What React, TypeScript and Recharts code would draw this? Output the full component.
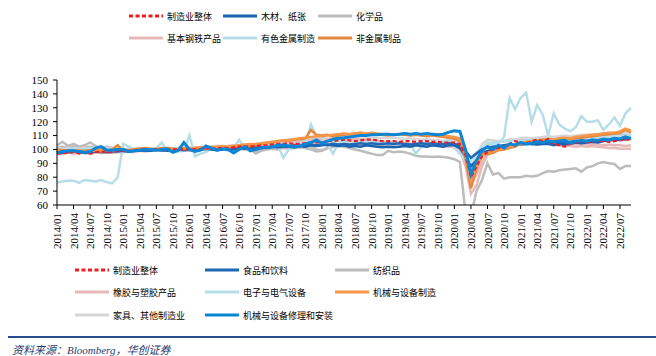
import React from 'react';
import { LineChart, Line, XAxis, YAxis } from 'recharts';

// 2014/01 .. 2022/09, monthly
const months: string[] = [];
for (let y = 2014; y <= 2022; y++) {
  for (let m = 1; m <= 12; m++) {
    if (y === 2022 && m > 9) break;
    months.push(`${y}/${m < 10 ? '0' + m : m}`);
  }
}

const yTicks = [60, 70, 80, 90, 100, 110, 120, 130, 140, 150];

// 制造业整体
const zzt = [
  97, 97, 97.5, 98, 97, 98, 97, 98, 98.5, 98, 98, 99,
  99, 99, 99.5, 100, 100, 100, 100, 100.5, 100, 100, 100, 100,
  100, 100, 100.5, 101, 100.5, 101, 101, 101, 101.5, 102, 102, 102,
  102.5, 103, 103, 103.5, 104, 104, 104.5, 104, 104, 104.5, 105, 105,
  105, 106, 106, 106.5, 107, 106.5, 106, 106.5, 107, 107, 106.5, 106,
  106, 106, 105.5, 106, 106, 105.5, 106, 106, 105.5, 105.5, 105, 105,
  105, 104, 96, 80, 88, 95, 98, 100, 101, 102, 104, 106,
  105, 104, 106, 107, 106, 107.5, 104, 103, 102, 104, 105, 106,
  105, 106, 106, 106, 105.5, 106, 106.5, 107, 107,
];
// 木材、纸张
const mc = [
  99, 98, 98.5, 99, 98, 98.5, 98, 99, 98.5, 98, 98.5, 99,
  99, 98.5, 99, 99.5, 99, 99, 100, 99.5, 99, 99.5, 100, 99.5,
  100, 99.5, 100, 100.5, 100, 99.5, 100, 100.5, 100, 101, 100.5, 101,
  101, 101.5, 101, 102, 101.5, 102, 102, 101.5, 102.5, 102, 103, 102.5,
  103, 103.5, 103, 102.5, 103, 102, 102.5, 102, 103, 102.5, 102, 101.5,
  102, 101.5, 102, 102.5, 102, 103, 102.5, 102, 103, 102.5, 102, 103,
  103, 101, 95, 88, 92, 97, 99, 100, 101, 101, 102, 103,
  103.5, 104, 104, 103.5, 104, 104, 103, 104, 103.5, 104, 105, 104.5,
  105, 105.5, 105, 106, 106.5, 107, 107, 107.5, 108,
];
// 化学品
const hx = [
  103, 105.5, 102.5, 104, 102, 103, 105, 102.5, 101, 102, 101, 100,
  100, 99.5, 100, 100.5, 100, 99.5, 100, 101, 100.5, 100, 100, 99.5,
  100, 100, 100.5, 101, 100.5, 101, 101.5, 101, 100.5, 101, 101.5, 101,
  98.5, 100, 101, 101.5, 101, 102, 102, 102.5, 102, 103, 102, 100,
  99.5, 101, 102, 103, 103.5, 103, 103.5, 104, 103, 104, 103.5, 103,
  103, 103.5, 104, 103, 103.5, 104, 103.5, 104, 103, 103.5, 104, 104,
  104, 102, 96, 86, 92, 99, 103, 105, 106, 106, 107, 107,
  107, 107.5, 108, 107.5, 108, 108.5, 108, 108.5, 109, 108.5, 109, 109,
  109.5, 110, 110, 110.5, 110.5, 111, 111, 111, 111,
];
// 基本钢铁产品
const gt = [
  98, 97.5, 98, 97, 98, 97.5, 97, 98, 97.5, 98, 97.5, 98,
  98, 98.5, 98, 99, 98.5, 99, 99.5, 99, 99.5, 100, 99.5, 100,
  100, 100.5, 101, 101.5, 101, 102, 101.5, 102, 102.5, 102, 103, 103,
  103.5, 104, 104.5, 105, 105, 105.5, 106, 106.5, 106, 107, 107, 107.5,
  108, 107.5, 108, 108.5, 108, 107.5, 107, 107.5, 107, 106.5, 106, 105.5,
  105, 105.5, 105, 104.5, 104, 104.5, 104, 103.5, 103, 103.5, 103, 102,
  102, 100, 88, 68, 74, 88, 96, 99, 101, 102, 103, 104,
  104.5, 105, 105, 104.5, 105, 104, 103.5, 103, 102.5, 102.5, 102, 102.5,
  102, 102.5, 102, 101.5, 101, 101, 100.5, 100.5, 100.5,
];
// 有色金属制造
const ys = [
  76, 77, 77.5, 77.5, 76, 78, 77.5, 77, 78, 76.5, 75.5, 80,
  104, 102, 100, 100, 99.5, 100, 101, 105, 99, 98.5, 98.5, 99,
  110, 95, 97, 98, 101, 102, 100, 99.5, 101, 107, 101, 100,
  100, 101, 102, 102.5, 103, 94, 100, 102, 103, 104, 118, 110,
  109, 104, 97, 104, 105, 106, 105, 106, 105, 104, 105, 104,
  104, 105, 104, 103, 104, 97, 102, 104, 105, 104, 105, 108,
  101, 97, 92, 88, 95, 100, 105, 104, 104, 109, 137, 129,
  137, 141, 120, 132, 125, 110, 126, 118, 115, 113, 116, 124,
  120, 120, 121, 114, 118, 123, 117, 126, 130,
];
// 非金属制品
const fjs = [
  100, 99.5, 99, 98.5, 99, 99, 99.5, 99, 98.5, 99, 100, 103,
  99, 99.5, 100, 100.5, 101, 100.5, 100, 100.5, 101, 100.5, 100, 100.5,
  100, 100.5, 101, 100.5, 101, 101.5, 101, 101.5, 102, 102.5, 102, 102.5,
  103, 104, 104.5, 105, 106, 106.5, 106.5, 107, 107.5, 108, 114, 110.5,
  110, 110.5, 109.5, 110, 110.5, 111, 111.5, 112, 111.5, 111, 110.5, 110.5,
  110, 110.5, 111, 110.5, 110, 110.5, 110, 109.5, 110, 109.5, 109, 108.5,
  107.5, 106, 94, 72, 86, 97, 96.5, 97.5, 99.5, 100, 101, 102,
  104, 105, 105.5, 106, 107, 106.5, 107, 107.5, 108, 107.5, 108, 108.5,
  109, 109.5, 110, 110.5, 111, 111.5, 112, 114, 112.5,
];
// 食品和饮料
const sp = [
  98, 97.5, 98, 98.5, 98, 97.5, 98, 98.5, 98, 98.5, 99, 98.5,
  99, 98.5, 99, 99.5, 99, 99.5, 100, 99.5, 100, 99.5, 100, 100,
  100.5, 100, 100.5, 101, 100.5, 101, 100.5, 101, 101.5, 101, 101.5, 101,
  101.5, 101, 101.5, 102, 102.5, 102, 102.5, 103, 102.5, 103, 103.5, 103,
  103.5, 103, 104, 103.5, 104, 103.5, 104, 104.5, 104, 104.5, 104, 104,
  104.5, 104, 104.5, 104, 103.5, 104, 104.5, 104, 104.5, 104, 104, 104.5,
  104, 103, 99, 94, 97, 100, 101.5, 102, 102.5, 103, 103.5, 103,
  104, 104.5, 104, 104.5, 105, 104.5, 105, 105.5, 105, 105.5, 106, 105.5,
  106, 106.5, 106, 106.5, 107, 107.5, 107, 107.5, 108,
];
// 纺织品
const fz = [
  101, 102, 101, 102.5, 101, 101.5, 102, 101, 100.5, 100, 100.5, 100,
  100, 99.5, 99, 99.5, 100, 99.5, 99, 99.5, 100, 99.5, 99, 99.5,
  99, 99.5, 100, 99.5, 100, 100.5, 100, 99.5, 100, 100.5, 100, 100.5,
  97, 99, 100, 100.5, 100, 101, 100.5, 101, 101.5, 101, 100, 98.5,
  99, 101, 102, 102.5, 102, 101, 100, 99, 98, 97, 96, 96,
  99, 98, 98.5, 98, 97, 95.5, 95, 95, 94.5, 95, 94.5, 94,
  93, 91, 55, 52, 70, 78, 90, 82, 83, 79, 80, 80,
  80, 81, 80.5, 81, 83, 84.5, 84, 85, 85.5, 86, 86.5, 84,
  87, 88, 90, 91, 90, 89.5, 86, 88, 88,
];
// 橡胶与塑胶产品
const xj = [
  99, 98.5, 99, 98.5, 99, 98, 98.5, 99, 98.5, 99, 99.5, 99,
  99.5, 99, 99.5, 100, 99.5, 100, 100.5, 100, 100.5, 100, 101, 100.5,
  101, 101.5, 101, 101.5, 102, 102.5, 102, 102.5, 103, 102.5, 103, 103.5,
  103, 103.5, 104, 104.5, 104, 105, 104.5, 105, 105.5, 105, 106, 106,
  106, 106.5, 106, 106.5, 107, 106.5, 106, 106.5, 106, 105.5, 105, 105.5,
  105, 104.5, 105, 104.5, 104, 104.5, 104, 103.5, 104, 103.5, 103, 103,
  103, 101, 92, 75, 82, 92, 98, 101, 102, 103, 103.5, 104,
  104, 104.5, 104, 104.5, 105, 104.5, 104, 104.5, 104, 103.5, 104, 103.5,
  103.5, 104, 103.5, 103, 103.5, 103, 103, 102.5, 103,
];
// 电子与电气设备
const dz = [
  100, 99.5, 100, 101, 100.5, 100, 101, 100.5, 101, 100, 100.5, 101,
  100.5, 100, 100.5, 101, 100, 100.5, 101, 100.5, 100, 100.5, 101, 100.5,
  100, 100.5, 101, 100.5, 101, 101.5, 101, 101.5, 102, 101.5, 102, 102.5,
  102, 102.5, 103, 103.5, 103, 104, 103.5, 104, 104.5, 105, 105.5, 105,
  105.5, 106, 105.5, 106, 106.5, 106, 105.5, 106, 105, 105.5, 105, 104.5,
  105, 104.5, 105, 104, 103.5, 104, 104.5, 104, 104.5, 104, 105, 106,
  105, 103, 96, 92, 98, 102, 104, 105, 105.5, 106, 106, 106.5,
  106, 106.5, 107, 106.5, 107, 107.5, 107, 107.5, 108, 107.5, 108, 108,
  108.5, 109, 108.5, 109, 109.5, 109, 109.5, 110, 110,
];
// 机械与设备制造
const jx = [
  99, 98.5, 99, 99.5, 99, 98.5, 99, 99.5, 100, 99.5, 99, 100,
  100, 99.5, 100, 100.5, 100, 100, 100.5, 101, 100.5, 100, 100.5, 101,
  100.5, 101, 101.5, 101, 101.5, 102, 102.5, 102, 102.5, 103, 103.5, 104,
  104, 104.5, 105, 105.5, 106, 106.5, 107, 107.5, 108, 108.5, 109, 109.5,
  109.5, 110, 110.5, 111, 111.5, 111, 111.5, 112, 111.5, 112, 111.5, 111,
  111, 110.5, 111, 111.5, 111, 110.5, 111, 110.5, 110, 110.5, 110, 109.5,
  109, 108, 98, 78, 88, 96, 97.5, 98.5, 100, 101, 102, 103,
  104.5, 105.5, 106, 106.5, 107, 107.5, 107, 108, 108.5, 108, 109, 109.5,
  110, 110.5, 111, 111.5, 112, 112, 113, 115, 113.5,
];
// 家具、其他制造业
const jj = [
  101, 100.5, 101, 100, 100.5, 101, 100.5, 100, 100.5, 101, 100.5, 100,
  100, 100.5, 100, 99.5, 100, 100.5, 100, 100.5, 101, 100.5, 100, 100.5,
  101, 101.5, 101, 101.5, 102, 101.5, 102, 102.5, 102, 102.5, 103, 102.5,
  103, 103.5, 103, 104, 104.5, 104, 104.5, 105, 105.5, 105, 106, 106.5,
  106, 106.5, 107, 107.5, 107, 107.5, 108, 107.5, 108, 108.5, 108, 108.5,
  108, 108.5, 108, 107.5, 108, 107.5, 107, 107.5, 107, 106.5, 106, 106,
  105.5, 103, 92, 80, 92, 104, 107, 106.5, 106, 105.5, 106.5, 107,
  108, 108.5, 108, 108.5, 109, 109.5, 109, 109.5, 110, 109.5, 110, 110.5,
  110.5, 111, 111, 111.5, 111.5, 112, 112, 112, 111.5,
];
// 机械与设备修理和安装
const xl = [
  97.5, 98.5, 99, 99, 98.5, 98, 98.5, 101, 102, 99.5, 99.5, 100,
  100, 98.5, 99, 99.5, 100, 100, 99.5, 100, 100.5, 98, 99.5, 105,
  100, 98.5, 99.5, 102.5, 101, 99.5, 100.5, 100, 97.5, 100, 102, 99,
  100, 101, 101.5, 102, 103, 103.2, 102.5, 102, 102.5, 104, 105, 106.8,
  104.4, 106, 107.3, 108, 108.5, 109, 109.5, 110, 110, 110.5, 110.5, 111,
  111, 110.5, 111, 111.5, 111, 111.5, 111, 111.5, 111, 110.5, 111, 112.5,
  113.5, 113, 100, 82, 92, 99, 102, 100, 103, 101, 104, 103,
  105, 104, 104.5, 105.5, 105, 106, 105.5, 106, 106.5, 104.5, 106, 106.5,
  106, 107, 106.5, 107.5, 107, 108, 107.5, 109, 108,
];

type Series = { key: string; name: string; values: number[]; color: string; width: number; dash?: string };

const S: Record<string, Series> = {
  zzt: { key: 'zzt', name: '制造业整体', values: zzt, color: '#EE1C25', width: 2.2, dash: '4 2.5' },
  mc: { key: 'mc', name: '木材、纸张', values: mc, color: '#1A62B2', width: 2.5 },
  hx: { key: 'hx', name: '化学品', values: hx, color: '#BEBEBE', width: 2.5 },
  gt: { key: 'gt', name: '基本钢铁产品', values: gt, color: '#E6B9B8', width: 2.5 },
  ys: { key: 'ys', name: '有色金属制造', values: ys, color: '#B7DEE8', width: 2.5 },
  fjs: { key: 'fjs', name: '非金属制品', values: fjs, color: '#E4873F', width: 2.5 },
  sp: { key: 'sp', name: '食品和饮料', values: sp, color: '#1F68B6', width: 2.5 },
  fz: { key: 'fz', name: '纺织品', values: fz, color: '#BCBCBC', width: 2.5 },
  xj: { key: 'xj', name: '橡胶与塑胶产品', values: xj, color: '#E6B9B8', width: 2.5 },
  dz: { key: 'dz', name: '电子与电气设备', values: dz, color: '#B7DEE8', width: 2.5 },
  jx: { key: 'jx', name: '机械与设备制造', values: jx, color: '#F79646', width: 2.5 },
  jj: { key: 'jj', name: '家具、其他制造业', values: jj, color: '#D6D6D6', width: 2.5 },
  xl: { key: 'xl', name: '机械与设备修理和安装', values: xl, color: '#0B85D5', width: 3 },
};

const drawOrder = ['fz', 'hx', 'jj', 'gt', 'xj', 'dz', 'ys', 'mc', 'sp', 'fjs', 'jx', 'zzt', 'xl'];
const topLegend = ['zzt', 'mc', 'hx', 'gt', 'ys', 'fjs'];
const bottomLegend = ['zzt', 'sp', 'fz', 'xj', 'dz', 'jx', 'jj', 'xl'];

const data = months.map((m, i) => {
  const row: any = { month: m };
  drawOrder.forEach(k => { row[k] = S[k].values[i]; });
  return row;
});

const serif = '"Liberation Serif", "Times New Roman", serif';
const cjk = '"Noto Sans CJK SC", sans-serif';

const MonthTick = (props: any) => {
  const { x, y, payload } = props;
  return (
    <text x={x} y={y} transform={`rotate(-90, ${x}, ${y})`} textAnchor="end" dominantBaseline="central"
      fontSize={11} fontFamily={serif} fill="#000">
      {payload.value}
    </text>
  );
};

const LegendItem = ({ s, left, top }: { s: Series; left: number; top: number }) => (
  <div style={{ position: 'absolute', left, top: top - 8, height: 16, display: 'flex', alignItems: 'center', whiteSpace: 'nowrap' }}>
    <svg width={34} height={6} style={{ display: 'block' }}>
      <line x1={0} y1={3} x2={34} y2={3} stroke={s.color} strokeWidth={3} strokeDasharray={s.dash} />
    </svg>
    <span style={{ marginLeft: 4, fontSize: 9, fontFamily: cjk, color: '#000' }}>{s.name}</span>
  </div>
);

export default function App() {
  const topCols = [129, 223, 318];
  const topRows = [16, 38];
  const botCols = [75, 205, 335];
  const botRows = [270, 292, 315];
  return (
    <div style={{ position: 'relative', width: 656, height: 356, background: '#fff', overflow: 'hidden' }}>
      <style>{'body{margin:0}'}</style>
      {topLegend.map((k, i) => (
        <LegendItem key={'t' + k} s={S[k]} left={topCols[i % 3]} top={topRows[Math.floor(i / 3)]} />
      ))}
      <div style={{ position: 'absolute', left: 0, top: 0 }}>
        <LineChart width={656} height={255} data={data} margin={{ top: 80, right: 25, bottom: 0, left: 27 }}>
          <XAxis dataKey="month" interval={2} tick={<MonthTick />} tickSize={4} tickMargin={4} height={50}
            axisLine={{ stroke: '#000' }} tickLine={{ stroke: '#000' }} />
          <YAxis domain={[60, 150]} ticks={yTicks} interval={0} allowDataOverflow width={30} tickSize={4} tickMargin={5}
            axisLine={{ stroke: '#000' }} tickLine={{ stroke: '#000' }}
            tick={{ fontSize: 11, fontFamily: serif, fill: '#000' }} />
          {drawOrder.map(k => (
            <Line key={k} dataKey={k} name={S[k].name} type="linear" stroke={S[k].color} strokeWidth={S[k].width}
              strokeDasharray={S[k].dash} dot={false} activeDot={false} isAnimationActive={false} />
          ))}
        </LineChart>
      </div>
      {bottomLegend.map((k, i) => (
        <LegendItem key={'b' + k} s={S[k]} left={botCols[i % 3]} top={botRows[Math.floor(i / 3)]} />
      ))}
      <div style={{ position: 'absolute', left: 8, right: 0, top: 336, height: 2, background: '#2B4C8C' }} />
      <div style={{ position: 'absolute', left: 12, top: 341, fontSize: 11, fontStyle: 'italic', fontFamily: `${serif}, ${cjk}`, color: '#1F3B73', whiteSpace: 'nowrap' }}>
        资料来源：Bloomberg，华创证券
      </div>
    </div>
  );
}
